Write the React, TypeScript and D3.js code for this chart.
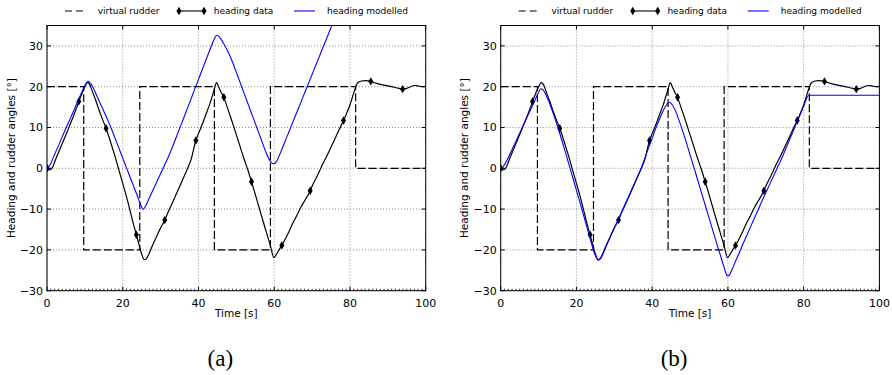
import React, { useEffect, useRef } from 'react';
import * as d3 from 'd3';

// measured heading (same in both panels)
const headingTime = [0, 0.5, 1, 1.5, 2, 3, 4, 5, 6, 7, 8, 8.4, 9, 10, 10.7, 11.3, 12, 13, 14, 15, 15.6, 16, 17, 18, 19, 20, 21, 22, 23, 23.6, 24, 25, 25.7, 26.2, 27, 28, 29, 30, 31.1, 32, 33, 34, 35, 36, 37, 38, 39.3, 40, 41, 42, 43, 44, 44.8, 45.3, 46, 46.7, 47, 48, 49, 50, 51, 52, 53, 54, 55, 56, 57, 58, 59, 59.9, 60.5, 61, 62, 63, 64, 65, 66, 67, 68, 69.5, 70, 71, 72, 73, 74, 75, 76, 77, 78.3, 79, 80, 81, 81.5, 82, 83, 84, 85.5, 87, 89, 91, 93, 93.9, 95, 96, 97, 98, 99, 100];
const headingValue = [0, -0.4, -0.3, 0.3, 1.5, 3.8, 6.0, 8.2, 10.5, 12.8, 15.3, 16.4, 17.8, 20.0, 21.0, 20.5, 18.8, 16.3, 13.6, 11.2, 9.8, 8.7, 5.8, 2.8, -0.5, -3.7, -7.0, -10.6, -14.3, -16.3, -17.7, -21.0, -22.4, -22.2, -20.8, -18.6, -16.6, -14.6, -12.7, -10.7, -8.7, -6.6, -4.5, -2.4, -0.3, 2.0, 6.8, 8.5, 10.8, 13.3, 15.8, 18.8, 21.0, 20.0, 18.6, 17.4, 16.6, 13.9, 11.1, 8.2, 5.3, 2.4, -0.3, -3.3, -6.4, -9.6, -12.8, -15.9, -19.0, -21.9, -21.2, -20.4, -18.9, -17.2, -15.3, -13.3, -11.5, -9.6, -8.0, -5.5, -4.4, -2.5, -0.6, 1.4, 3.2, 5.2, 7.2, 9.2, 11.7, 13.2, 15.5, 18.5, 19.9, 20.9, 21.4, 21.5, 21.3, 20.8, 20.4, 20.0, 19.6, 19.4, 19.6, 20.0, 20.3, 20.2, 20.0, 20.1];

const markerTime = [0, 8.4, 15.6, 23.6, 31.1, 39.3, 46.7, 54.0, 62.0, 69.5, 78.3, 85.5, 93.9];
const markerValue = [0, 16.4, 9.8, -16.3, -12.7, 6.8, 17.4, -3.3, -18.9, -5.5, 11.7, 21.3, 19.4];

// virtual rudder (step)
const rudderTime = [0, 9.7, 24.5, 44.2, 59.0, 81.5, 100];
const rudderAngle = [20, -20, 20, -20, 20, 0, 0];

// modelled heading, panel (a)
const modelTimeA = [0, 1, 2, 3, 4, 5, 6, 7, 8, 9, 10, 10.9, 11.6, 12, 13, 14, 15, 16, 17, 18, 19, 20, 21, 22, 23, 24, 24.8, 25.4, 26, 27, 28, 29, 30, 31, 32, 33, 34, 35, 36, 37, 38, 39, 40, 41, 42, 43, 44, 44.8, 45.5, 46, 47, 48, 49, 50, 51, 52, 53, 54, 55, 56, 57, 58, 59, 59.8, 60.5, 61, 62, 63, 64, 65, 66, 67, 68, 69, 70, 71, 72, 73, 74, 75, 76, 77];
const modelHeadingA = [0, 1.2, 3.4, 5.5, 7.7, 9.8, 11.9, 14.0, 16.2, 18.3, 20.3, 21.3, 20.7, 20.1, 18.1, 16.0, 14.0, 11.9, 9.7, 7.3, 4.9, 2.5, 0.1, -2.3, -4.7, -7.1, -9.1, -10.1, -9.3, -7.3, -5.3, -3.3, -1.3, 0.7, 2.7, 4.9, 7.3, 9.7, 12.1, 14.5, 16.9, 19.4, 21.8, 24.2, 26.6, 29.0, 31.3, 32.6, 32.2, 31.6, 30.0, 28.2, 26.0, 23.5, 21.0, 18.5, 16.0, 13.5, 11.0, 8.5, 6.0, 3.5, 1.7, 1.1, 1.5, 2.4, 4.6, 6.9, 9.2, 11.5, 13.8, 16.1, 18.4, 20.7, 23.0, 25.3, 27.6, 29.9, 32.2, 34.5, 36.8, 39.1];

// modelled heading, panel (b)
const modelTimeB = [0, 0.5, 1, 2, 3, 4, 5, 6, 7, 8, 9, 10, 10.6, 11.2, 12, 13, 14, 15, 16, 17, 18, 19, 20, 21, 22, 23, 24, 25, 25.8, 26.5, 27, 28, 29, 30, 31, 32, 33, 34, 35, 36, 37, 38, 39, 40, 41, 42, 43, 44, 44.5, 45, 46, 47, 48, 49, 50, 51, 52, 53, 54, 55, 56, 57, 58, 59, 59.6, 60, 60.5, 61, 62, 63, 64, 65, 66, 67, 68, 69, 70, 71, 72, 73, 74, 75, 76, 77, 78, 79, 80, 81.4, 100];
const modelHeadingB = [0, 0.2, 0.9, 2.6, 4.6, 6.6, 8.6, 10.6, 12.6, 14.6, 16.6, 18.6, 19.5, 19.2, 17.9, 15.7, 13.1, 10.3, 7.3, 4.2, 1.0, -2.2, -5.4, -8.6, -11.9, -15.2, -18.5, -21.4, -22.5, -22.0, -21.0, -18.8, -16.7, -14.6, -12.6, -10.6, -8.5, -6.5, -4.4, -2.3, -0.2, 2.3, 4.9, 7.4, 9.9, 12.2, 14.3, 15.8, 16.2, 15.9, 14.4, 12.0, 9.3, 6.4, 3.3, 0.3, -2.8, -5.9, -9.0, -12.1, -15.2, -18.3, -21.3, -24.3, -26.0, -26.4, -26.0, -25.0, -22.8, -20.7, -18.5, -16.4, -14.3, -12.2, -10.1, -8.0, -6.0, -4.0, -2.0, 0.0, 2.0, 4.2, 6.4, 8.6, 10.8, 13.0, 15.2, 17.9, 17.9];

const xTicks = [0, 20, 40, 60, 80, 100];
const yTicks = [-30, -20, -10, 0, 10, 20, 30];
const legendLabels = ['virtual rudder', 'heading data', 'heading modelled'];

const panels = [
  { label: '(a)', left: 47, modelTime: modelTimeA, modelHeading: modelHeadingA },
  { label: '(b)', left: 500.7, modelTime: modelTimeB, modelHeading: modelHeadingB },
];

const font = '"DejaVu Sans", sans-serif';
const diamond = 'M0,-4.2L2.5,0L0,4.2L-2.5,0Z';

const App: React.FC = () => {
  const chartRef = useRef<SVGSVGElement | null>(null);

  useEffect(() => {
    const svg = d3.select(chartRef.current);
    svg.selectAll('*').remove();

    const plotW = 378.7;
    const top = 25.5;
    const bottom = 290.7;

    panels.forEach((p, pi) => {
      const x = d3.scaleLinear().domain([0, 100]).range([p.left, p.left + plotW]);
      const y = d3.scaleLinear().domain([-30, 35]).range([bottom, top]);
      const g = svg.append('g');

      const clipId = `clip-${pi}`;
      g.append('clipPath').attr('id', clipId)
        .append('rect')
        .attr('x', p.left).attr('y', top)
        .attr('width', plotW).attr('height', bottom - top);

      // grid
      xTicks.forEach(t => {
        g.append('line')
          .attr('x1', x(t)).attr('x2', x(t))
          .attr('y1', top).attr('y2', bottom)
          .attr('stroke', '#444').attr('stroke-width', 0.6)
          .attr('stroke-dasharray', '1,2');
      });
      yTicks.forEach(v => {
        g.append('line')
          .attr('x1', p.left).attr('x2', p.left + plotW)
          .attr('y1', y(v)).attr('y2', y(v))
          .attr('stroke', '#444').attr('stroke-width', 0.6)
          .attr('stroke-dasharray', '1,2');
      });

      const plot = g.append('g').attr('clip-path', `url(#${clipId})`);

      // virtual rudder
      const rudderLine = d3.line<number>()
        .x((_, i) => x(rudderTime[i]))
        .y(d => y(d))
        .curve(d3.curveStepAfter);
      plot.append('path')
        .attr('d', rudderLine(rudderAngle))
        .attr('fill', 'none')
        .attr('stroke', '#000')
        .attr('stroke-width', 1.2)
        .attr('stroke-dasharray', '8,3');

      // heading data
      const headingLine = d3.line<number>()
        .x((_, i) => x(headingTime[i]))
        .y(d => y(d))
        .curve(d3.curveMonotoneX);
      plot.append('path')
        .attr('d', headingLine(headingValue))
        .attr('fill', 'none')
        .attr('stroke', '#000')
        .attr('stroke-width', 1.2);

      plot.selectAll('.marker')
        .data(markerValue)
        .enter().append('path')
        .attr('class', 'marker')
        .attr('d', diamond)
        .attr('transform', (d, i) => `translate(${x(markerTime[i])},${y(d)})`)
        .attr('fill', '#000');

      // heading modelled
      const modelLine = d3.line<number>()
        .x((_, i) => x(p.modelTime[i]))
        .y(d => y(d))
        .curve(d3.curveMonotoneX);
      plot.append('path')
        .attr('d', modelLine(p.modelHeading))
        .attr('fill', 'none')
        .attr('stroke', '#0000ff')
        .attr('stroke-width', 1.1);

      // frame
      g.append('rect')
        .attr('x', p.left).attr('y', top)
        .attr('width', plotW).attr('height', bottom - top)
        .attr('fill', 'none').attr('stroke', '#000').attr('stroke-width', 1);

      // ticks (inward, all sides)
      xTicks.forEach(t => {
        g.append('line').attr('x1', x(t)).attr('x2', x(t)).attr('y1', bottom).attr('y2', bottom - 4).attr('stroke', '#000');
        g.append('line').attr('x1', x(t)).attr('x2', x(t)).attr('y1', top).attr('y2', top + 4).attr('stroke', '#000');
        g.append('text')
          .attr('x', x(t)).attr('y', bottom + 8)
          .attr('text-anchor', 'middle').attr('dy', '0.71em')
          .style('font-family', font).style('font-size', '11px')
          .text(String(t));
      });
      d3.range(1, 100).forEach(t => {
        g.append('line').attr('x1', x(t)).attr('x2', x(t)).attr('y1', bottom).attr('y2', bottom - 2)
          .attr('stroke', '#000').attr('stroke-width', 0.8);
      });
      yTicks.forEach(v => {
        g.append('line').attr('x1', p.left).attr('x2', p.left + 4).attr('y1', y(v)).attr('y2', y(v)).attr('stroke', '#000');
        g.append('line').attr('x1', p.left + plotW).attr('x2', p.left + plotW - 4).attr('y1', y(v)).attr('y2', y(v)).attr('stroke', '#000');
        g.append('text')
          .attr('x', p.left - 4).attr('y', y(v))
          .attr('text-anchor', 'end').attr('dy', '0.35em')
          .style('font-family', font).style('font-size', '11px')
          .text(v < 0 ? `\u2212${Math.abs(v)}` : String(v));
      });

      // axis labels
      g.append('text')
        .attr('x', p.left + plotW / 2).attr('y', 313)
        .attr('text-anchor', 'middle').attr('dy', '0.35em')
        .style('font-family', font).style('font-size', '10.5px')
        .text('Time [s]');
      g.append('text')
        .attr('transform', `translate(${p.left - 36},${(top + bottom) / 2}) rotate(-90)`)
        .attr('text-anchor', 'middle').attr('dy', '0.35em')
        .style('font-family', font).style('font-size', '10.5px')
        .text('Heading and rudder angles [°]');

      // legend
      const ly = 11;
      const lx = p.left;
      g.append('line')
        .attr('x1', lx + 18).attr('x2', lx + 40).attr('y1', ly).attr('y2', ly)
        .attr('stroke', '#000').attr('stroke-width', 1.2).attr('stroke-dasharray', '7,4');
      g.append('line')
        .attr('x1', lx + 132).attr('x2', lx + 157).attr('y1', ly).attr('y2', ly)
        .attr('stroke', '#000').attr('stroke-width', 1.1);
      [lx + 132, lx + 157].forEach(mx => {
        g.append('path').attr('d', diamond).attr('transform', `translate(${mx},${ly})`).attr('fill', '#000');
      });
      g.append('line')
        .attr('x1', lx + 247).attr('x2', lx + 268).attr('y1', ly).attr('y2', ly)
        .attr('stroke', '#0000ff').attr('stroke-width', 1.1);
      [lx + 50.7, lx + 166.7, lx + 280].forEach((tx, i) => {
        g.append('text')
          .attr('x', tx).attr('y', ly).attr('dy', '0.35em')
          .style('font-family', font).style('font-size', '9px')
          .text(legendLabels[i]);
      });

      // sub caption
      g.append('text')
        .attr('x', p.left + plotW / 2 - 16).attr('y', 358)
        .attr('text-anchor', 'middle').attr('dy', '0.35em')
        .style('font-family', '"Liberation Serif", serif').style('font-size', '23px')
        .text(p.label);
    });
  }, []);

  return (
    <div>
      <svg ref={chartRef} width={892} height={375}
        style={{ position: 'absolute', left: 0, top: 0, background: '#fff' }} />
    </div>
  );
};

export default App;
